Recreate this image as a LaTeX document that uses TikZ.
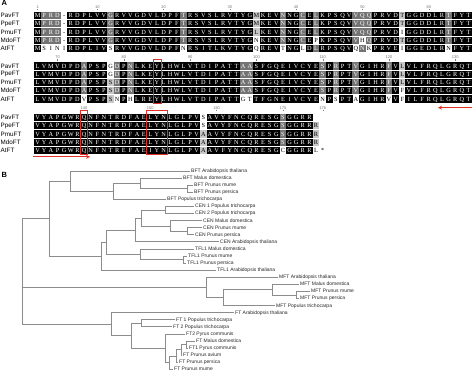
\documentclass[tikz,border=0pt]{standalone}
\usepackage{fontspec}
\setmainfont{Liberation Serif}
\setsansfont{Liberation Sans}
\usetikzlibrary{arrows.meta}
\definecolor{markred}{RGB}{226,48,38}

% similarity groups for the shading
\def\simgroup#1#2{\expandafter\def\csname G#1\endcsname{#2}}
\simgroup Ih\simgroup Lh\simgroup Vh\simgroup Mh
\simgroup Fa\simgroup Ya\simgroup Wa
\simgroup Kk\simgroup Rk
\simgroup Ss\simgroup Ts
\simgroup Dd\simgroup Ed
\simgroup Nn\simgroup Qn
\expandafter\def\csname G-\endcsname{-\currow}

\newcount\colcnt
\newcount\samecnt
\newcommand{\putseq}[3]{\def\curblk{#1}\def\currow{#2}\colcnt=0 \readres#3\endres}
\def\readres#1{%
  \ifx#1\endres\else
    \advance\colcnt by 1\relax
    \expandafter\def\csname r-\curblk-\currow-\the\colcnt\endcsname{#1}%
    \ifcsname G#1\endcsname
      \expandafter\edef\csname g-\curblk-\currow-\the\colcnt\endcsname{\csname G#1\endcsname}%
    \else
      \expandafter\def\csname g-\curblk-\currow-\the\colcnt\endcsname{#1}%
    \fi
    \expandafter\readres
  \fi}
\newcommand{\chkrow}[1]{%
  \expandafter\let\expandafter\othgrp\csname g-\blk-#1-\col\endcsname
  \ifx\mygrp\othgrp\advance\samecnt by 1\relax\fi}
\newcommand{\drawblock}[3]{%
  \foreach \col in {1,...,#2}{%
    \foreach \row in {1,...,5}{%
      \def\blk{#1}%
      \expandafter\let\expandafter\mygrp\csname g-#1-\row-\col\endcsname
      \ifx\mygrp\relax\else
        \samecnt=0
        \chkrow1\chkrow2\chkrow3\chkrow4\chkrow5%
        \node[res,cellfill=\the\samecnt] (s#1-\row-\col) at ({34.3+(\col-0.5)*6.63},{#3+(\row-1)*8.25}) {\csname r-#1-\row-\col\endcsname};
      \fi}}}

% alignment, three blocks
\putseq{A}{1}{MPRD-RDPLVVGRVVGDVLDPFTRSVSLRVTYGMKEVNNGCELKPSQVVQQPRVDTGGDDLRTFYT}
\putseq{A}{2}{MPRD-RDPLVVGRVVGDVLDPFTRSVSLRVTYGMKEVNNGCELKPSQVVQQPRVDTGGDDLRTFYT}
\putseq{A}{3}{MPRD-RDPLVVGRVVGDVLDPFTRSVSLRVTYGLKEVNNGCELKPSQVVQQPRVDIGGDDLRTFYT}
\putseq{A}{4}{MPRD-RDPLVVGRVVGDVLDPFTRSVSLRVTYGNKEVNNGCEPKPSQVVHQPRVDTGGDDLRTFYT}
\putseq{A}{5}{MSINIRDPLIVSRVVGDVLDPFNRSITLKVTYGQREVTNGLDLRPSQVQNKPRVEIGGEDLRNFYT}
\putseq{B}{1}{LVMVDPDAPSPGDPNLKEYLHWLVTDIPATTAASFGQEIVCYESPRPTVGIHRFVLVLFRQLGRQT}
\putseq{B}{2}{LVMVDPDAPSPGDPNLKEYLHWLVTDIPATTAASFGQEIVCYESPRPTVGIHRFVLVLFRQLGRQT}
\putseq{B}{3}{LVMVDPDAPSPSDPNLKEYLHWLVTDIPATTAASFGQEIVCYESPRPTVGIHRFVLVLFRQLGRQT}
\putseq{B}{4}{LVMVDPDAPSPSDPNLKEYLHWLVTDIPATTAASFGQEIVCYESPRPTVGIHRFVFVLFRQLGRQT}
\putseq{B}{5}{LVMVDPDVPSPSNPHLREYLHWLVTDIPATTGTTFGNEIVCYENPSPTAGIHRVVFILFRQLGRQT}
\putseq{C}{1}{VYAPGWRQNFNTRDFAELYNLGLPVSAVYFNCQRESGSGGRR}
\putseq{C}{2}{VYAPGWRQNFNTRDFAELYNLGLPVSAVYFNCQRESGSGGRRR}
\putseq{C}{3}{VYAPGWRQNFNTRDFAELYNLGLPVAAVYFNCQRESGSGGRRR}
\putseq{C}{4}{VYAPGWRQNFNTRDFAELYNLGLPVAAVYFNCQRESGSGGRRR}
\putseq{C}{5}{VYAPGWRQNFNTREFAEIYNLGLPVAAVFYNCQRESGCGGRRL}

\begin{document}
\begin{tikzpicture}[x=1pt,y=-1pt,
    res/.style={inner sep=0pt,minimum width=6.8pt,minimum height=7.4pt,text height=4.3pt,text depth=0pt,font=\fontsize{6.3}{6.3}\selectfont},
    cellfill/.code={\ifcase#1\or\or\or\tikzset{fill=black!22,text=black}\or\tikzset{fill=black!55,text=white}\else\tikzset{fill=black,text=white}\fi},
    rowlab/.style={anchor=west,inner sep=0pt,font=\sffamily\fontsize{6.3}{6.3}\selectfont},
    rulenum/.style={inner sep=0.3pt,text=black!55,font=\sffamily\fontsize{4}{4}\selectfont},
    rulertick/.style={draw=black!50,line width=0.4pt},
    redbox/.style={draw=markred,line width=0.9pt},
    redarrow/.style={draw=markred,line width=1.1pt,-{Stealth[length=4pt,width=4pt]}},
    panel/.style={anchor=north west,inner sep=0pt,font=\sffamily\bfseries\fontsize{7.5}{7.5}\selectfont},
    leaf/.style={anchor=west,inner xsep=1pt,inner ysep=0pt,text height=3pt,text depth=0pt,text=black!85,font=\sffamily\fontsize{5}{5}\selectfont},
    branch/.style={draw=black!45,line width=0.6pt}]
  \useasboundingbox (0,0) rectangle (474,371);

  % panel A
  \node[panel] (labA) at (1.5,0.5) {A};
  \foreach \blk/\y in {A/15.5,B/66,C/117.5}
    \foreach \nm [count=\r] in {PavFT,PpeFT,PmuFT,MdoFT,AtFT}
      \node[rowlab] (n\blk\r) at (0.5,{\y+(\r-1)*8.25}) {\nm};
  \foreach \c/\lab in {1/1,10/10,20/20,30/30,40/40,50/50,60/60} {
    \node[rulenum] (rA\lab) at ({34.3+(\c-0.5)*6.63},7) {\lab};
    \draw[rulertick] (rA\lab.south) -- ++(0,1.5);
  }
  \foreach \c/\lab in {4/70,14/80,24/90,34/100,44/110,54/120,64/130} {
    \node[rulenum] (rB\lab) at ({34.3+(\c-0.5)*6.63},57.5) {\lab};
    \draw[rulertick] (rB\lab.south) -- ++(0,1.5);
  }
  \foreach \c/\lab in {8/140,18/150,28/160,38/170,44/176} {
    \node[rulenum] (rC\lab) at ({34.3+(\c-0.5)*6.63},107.8) {\lab};
    \draw[rulertick] (rC\lab.south) -- ++(0,1.5);
  }
  \drawblock{A}{66}{15.5}
  \drawblock{B}{66}{66}
  \drawblock{C}{44}{117.5}
  \node[res] (stopC) at ({34.3+43.5*6.63},{117.5+4*8.25}) {*};

  % marked residues
  \draw[redbox] (153,59.5) rectangle (161,103.7);
  \draw[redbox] (80.2,110.3) rectangle (87.8,154.5);
  \draw[redbox] (146.5,110.3) rectangle (167.4,154.5);
  \coordinate (arrBs) at (472,107.7);
  \coordinate (arrBe) at (438,107.7);
  \coordinate (arrCs) at (33,156.8);
  \coordinate (arrCe) at (90,156.8);
  \draw[redarrow] (arrBs) -- (arrBe);
  \draw[redarrow] (arrCs) -- (arrCe);

  % panel B
  \node[panel] (labB) at (1.5,172.5) {B};
  \foreach \lab/\lx [count=\i] in {
      BFT Arabidopsis thaliana/191, BFT Malus domestica/183, BFT Prunus mume/194,
      BFT Prunus persica/194, BFT Populus trichocarpa/167,
      CEN 1 Populus trichocarpa/195, CEN 2 Populus trichocarpa/195,
      CEN Malus domestica/203, CEN Prunus mume/203, CEN Prunus persica/195,
      CEN Arabidopsis thaliana/220,
      TFL1 Malus domestica/195, TFL1 Prunus mume/188, TFL1 Prunus persica/187,
      TFL1 Arabidopsis thaliana/217,
      MFT Arabidopsis thaliana/279, MFT Malus domestica/300, MFT Prunus mume/311,
      MFT Prunus persica/300, MFT Populus trichocarpa/276,
      FT Arabidopsis thaliana/235, FT 1 Populus trichocarpa/176,
      FT 2 Populus trichocarpa/173, FT2 Pyrus communis/186,
      FT Malus domestica/196, FT1 Pyrus communis/189, FT Prunus avium/183,
      FT Prunus persica/179, FT Prunus mume/174}
    \node[leaf] (l\i) at (\lx-1,{171+(\i-1)*7.08}) {\lab};
  \foreach \nm/\x/\y in {
      b4/187/188.70, b3/140/183.39, b2/113.3/191.36, b1/70/181.18,
      c5/187.7/231.18, c4/170/225.87, c3/165/209.94, c2/141.7/217.90, c1/135/229.85,
      t2/183.3/259.50, t1/140/254.19, ct/106/242.02, ctt/101.7/256.07, n1/49.3/218.62,
      m4/296.7/294.90, m3/272.7/289.59, m2/223.3/297.56, m1/206/287.38,
      f6/186.5/344.46, f5/181/349.77, f4/176.5/355.97, f3/169.3/362.60, f2/165.7/348.22,
      fp/141/323.22, fa/131/335.72, f1/111.7/324.16, root/22.7/287.38}
    \coordinate (\nm) at (\x,\y);
  \foreach \p/\c in {
      b4/l3, b4/l4, b3/l2, b3/b4, b2/b3, b2/l5, b1/l1, b1/b2,
      c5/l9, c5/l10, c4/l8, c4/c5, c3/l6, c3/l7, c2/c3, c2/c4, c1/c2, c1/l11,
      t2/l13, t2/l14, t1/l12, t1/t2, ct/c1, ct/t1, ctt/ct, ctt/l15, n1/b1, n1/ctt,
      m4/l18, m4/l19, m3/l17, m3/m4, m2/m3, m2/l20, m1/l16, m1/m2,
      f6/l25, f6/l26, f5/f6, f5/l27, f4/f5, f4/l28, f3/f4, f3/l29, f2/l24, f2/f3,
      fp/l22, fp/l23, fa/fp, fa/f2, f1/l21, f1/fa,
      root/n1, root/m1, root/f1}
    \draw[branch] (\p) |- (\c);
\end{tikzpicture}
\end{document}
